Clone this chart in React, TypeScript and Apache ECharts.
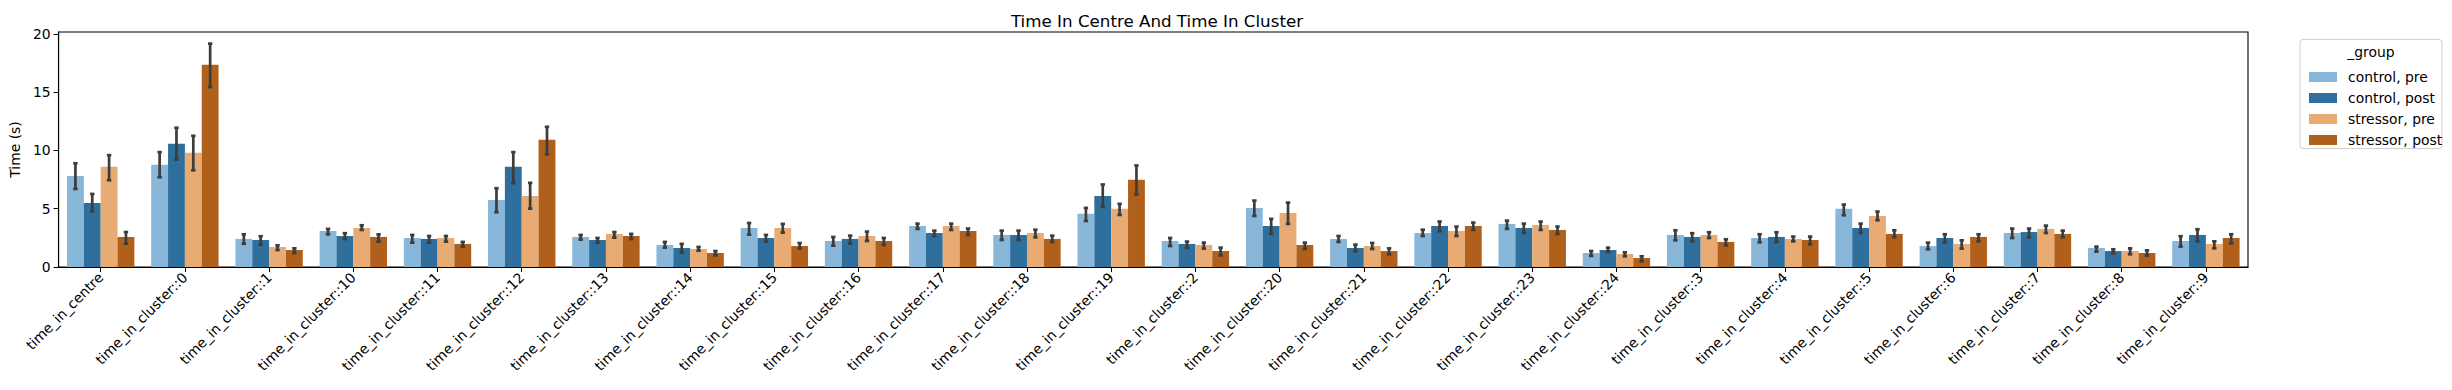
import React, { useEffect, useRef } from "react";
import * as echarts from "echarts";

const categories = [
  "time_in_centre", "time_in_cluster::0", "time_in_cluster::1", "time_in_cluster::10",
  "time_in_cluster::11", "time_in_cluster::12", "time_in_cluster::13", "time_in_cluster::14",
  "time_in_cluster::15", "time_in_cluster::16", "time_in_cluster::17", "time_in_cluster::18",
  "time_in_cluster::19", "time_in_cluster::2", "time_in_cluster::20", "time_in_cluster::21",
  "time_in_cluster::22", "time_in_cluster::23", "time_in_cluster::24", "time_in_cluster::3",
  "time_in_cluster::4", "time_in_cluster::5", "time_in_cluster::6", "time_in_cluster::7",
  "time_in_cluster::8", "time_in_cluster::9",
];

const groupNames = ["control, pre", "control, post", "stressor, pre", "stressor, post"];
const groupColors = ["#88b7d9", "#2e6f9e", "#e8ab73", "#b0601b"];

const controlPre = [7.82, 8.77, 2.41, 3.09, 2.49, 5.76, 2.58, 1.89, 3.35, 2.23, 3.52, 2.75, 4.56, 2.23, 5.07, 2.41, 2.92, 3.70, 1.20, 2.75, 2.49, 4.99, 1.80, 2.92, 1.63, 2.23];
const controlPreLow = [6.7, 7.7, 2.0, 2.8, 2.09, 4.7, 2.35, 1.66, 2.78, 1.83, 3.27, 2.32, 3.95, 1.8, 4.38, 2.15, 2.66, 3.27, 0.95, 2.29, 2.12, 4.44, 1.52, 2.49, 1.32, 1.75];
const controlPreHigh = [8.9, 9.86, 2.8, 3.27, 2.75, 6.76, 2.75, 2.15, 3.78, 2.58, 3.72, 3.12, 5.07, 2.49, 5.7, 2.66, 3.2, 3.98, 1.37, 3.15, 2.81, 5.36, 2.09, 3.3, 1.75, 2.64];

const controlPost = [5.5, 10.57, 2.32, 2.66, 2.41, 8.6, 2.32, 1.63, 2.49, 2.41, 2.92, 2.75, 6.1, 1.98, 3.52, 1.63, 3.52, 3.35, 1.46, 2.58, 2.58, 3.35, 2.49, 3.0, 1.37, 2.75];
const controlPostLow = [4.78, 9.23, 1.92, 2.4, 2.09, 7.19, 2.09, 1.23, 2.18, 2.0, 2.66, 2.32, 5.16, 1.63, 2.84, 1.35, 3.07, 2.92, 1.29, 2.2, 2.15, 2.92, 2.12, 2.55, 1.17, 2.2];
const controlPostHigh = [6.27, 11.95, 2.64, 2.9, 2.66, 9.86, 2.49, 1.98, 2.75, 2.69, 3.12, 3.12, 7.08, 2.18, 4.13, 1.92, 3.9, 3.72, 1.66, 2.9, 2.98, 3.72, 2.81, 3.3, 1.52, 3.24];

const stressorPre = [8.6, 9.8, 1.72, 3.35, 2.49, 6.1, 2.84, 1.55, 3.35, 2.66, 3.52, 2.92, 4.99, 1.89, 4.64, 1.8, 3.09, 3.61, 1.12, 2.75, 2.41, 4.38, 1.98, 3.27, 1.37, 1.98];
const stressorPreLow = [7.45, 8.3, 1.46, 3.18, 2.18, 5.01, 2.52, 1.4, 2.95, 2.23, 3.18, 2.55, 4.47, 1.58, 3.7, 1.55, 2.66, 3.18, 0.92, 2.49, 2.2, 4.01, 1.58, 2.92, 1.09, 1.6];
const stressorPreHigh = [9.6, 11.26, 1.86, 3.58, 2.66, 7.22, 3.0, 1.72, 3.7, 3.04, 3.72, 3.2, 5.42, 2.09, 5.53, 2.06, 3.47, 3.9, 1.26, 2.98, 2.61, 4.76, 2.29, 3.55, 1.6, 2.2];

const stressorPost = [2.58, 17.36, 1.46, 2.58, 1.98, 10.92, 2.66, 1.2, 1.8, 2.23, 3.09, 2.41, 7.48, 1.37, 1.89, 1.37, 3.52, 3.18, 0.77, 2.15, 2.32, 2.84, 2.58, 2.84, 1.2, 2.49];
const stressorPostLow = [2.0, 15.44, 1.2, 2.18, 1.75, 9.68, 2.4, 1.0, 1.58, 1.89, 2.75, 2.15, 6.22, 1.0, 1.55, 1.09, 3.18, 2.84, 0.49, 1.86, 1.95, 2.55, 2.2, 2.55, 0.97, 2.03];
const stressorPostHigh = [3.0, 19.17, 1.6, 2.8, 2.15, 12.03, 2.84, 1.37, 2.06, 2.49, 3.3, 2.69, 8.71, 1.66, 2.09, 1.6, 3.81, 3.47, 0.92, 2.38, 2.61, 3.15, 2.81, 3.12, 1.43, 2.81];

const yTicks = [0, 5, 10, 15, 20];

const means = [controlPre, controlPost, stressorPre, stressorPost];
const lows = [controlPreLow, controlPostLow, stressorPreLow, stressorPostLow];
const highs = [controlPreHigh, controlPostHigh, stressorPreHigh, stressorPostHigh];

const FONT = "DejaVu Sans";
const FS = 13.9;

export default function App() {
  const ref = useRef<HTMLDivElement>(null);
  useEffect(() => {
    if (!ref.current) return;
    const chart = echarts.init(ref.current, null, { renderer: "svg" });

    const barSeries = groupNames.map((name, g) => ({
      name,
      type: "bar",
      data: means[g],
      itemStyle: { color: groupColors[g] },
      barGap: "0%",
      barCategoryGap: "20%",
      z: 2,
    }));

    const errSeries = groupNames.map((name, g) => ({
      name: "err_" + g,
      type: "custom",
      z: 5,
      data: categories.map((_, i) => [i, lows[g][i], highs[g][i]]),
      encode: { x: 0, y: [1, 2] },
      renderItem: (params: any, api: any) => {
        const idx = api.value(0);
        const lo = api.value(1);
        const hi = api.value(2);
        const bw = api.size([1, 0])[0];
        const off = (g - 1.5) * bw * 0.2;
        const pLo = api.coord([idx, lo]);
        const pHi = api.coord([idx, hi]);
        const cx = pLo[0] + off;
        const style = { stroke: "#3d3d3d", lineWidth: 2.7, lineCap: "butt" };
        const cap = 2.2;
        return {
          type: "group",
          children: [
            { type: "line", shape: { x1: cx, y1: pLo[1], x2: cx, y2: pHi[1] }, style },
            { type: "line", shape: { x1: cx - cap, y1: pLo[1], x2: cx + cap, y2: pLo[1] }, style },
            { type: "line", shape: { x1: cx - cap, y1: pHi[1], x2: cx + cap, y2: pHi[1] }, style },
          ],
        };
      },
    }));

    chart.setOption({
      animation: false,
      title: {
        text: "Time In Centre And Time In Cluster",
        left: 1152,
        textAlign: "center",
        top: 7,
        textStyle: { fontFamily: FONT, fontSize: 16.7, fontWeight: "normal", color: "#000" },
      },
      grid: {
        left: 57,
        right: 2452 - 2248,
        top: 32,
        bottom: 390 - 267,
        show: true,
        borderColor: "#000",
        borderWidth: 1.1,
        backgroundColor: "transparent",
      },
      legend: {
        data: groupNames,
        orient: "vertical",
        left: 2304,
        top: 65,
        itemWidth: 28,
        itemHeight: 10,
        itemGap: 7,
        icon: "rect",
        textStyle: { fontFamily: FONT, fontSize: FS, color: "#000", lineHeight: 14, padding: [0, 0, 0, 6] },
      },
      graphic: [
        {
          type: "rect",
          shape: { x: 2300, y: 39.5, width: 142, height: 109, r: 3 },
          style: { fill: "rgba(255,255,255,0.8)", stroke: "#d0d0d0", lineWidth: 1 },
          z: 0,
        },
        {
          type: "text",
          x: 2371,
          y: 52,
          style: {
            text: "_group",
            fontFamily: FONT,
            fontSize: FS,
            fill: "#000",
            align: "center",
            verticalAlign: "middle",
          },
        },
      ],
      xAxis: {
        type: "category",
        data: categories,
        axisLine: { show: true, lineStyle: { color: "#000", width: 1.1 } },
        axisTick: { show: true, alignWithLabel: true, length: 5, lineStyle: { color: "#000", width: 1 } },
        axisLabel: {
          rotate: 45,
          interval: 0,
          margin: 8,
          fontFamily: FONT,
          fontSize: FS,
          color: "#000",
        },
      },
      yAxis: {
        type: "value",
        min: 0,
        max: 20.17,
        name: "Time (s)",
        nameLocation: "middle",
        nameGap: 34,
        nameRotate: 90,
        nameTextStyle: { fontFamily: FONT, fontSize: FS, color: "#000" },
        splitLine: { show: false },
        axisLine: { show: true, lineStyle: { color: "#000", width: 1.1 } },
        axisTick: { show: true, length: 5, lineStyle: { color: "#000", width: 1 }, customValues: yTicks },
        axisLabel: { fontFamily: FONT, fontSize: FS, color: "#000", margin: 8, customValues: yTicks },
      },
      series: [...barSeries, ...errSeries],
    });
    return () => chart.dispose();
  }, []);
  return (
    <div
      ref={ref}
      style={{ position: "fixed", left: 0, top: 0, width: 2452, height: 390, background: "#fff" }}
    />
  );
}
